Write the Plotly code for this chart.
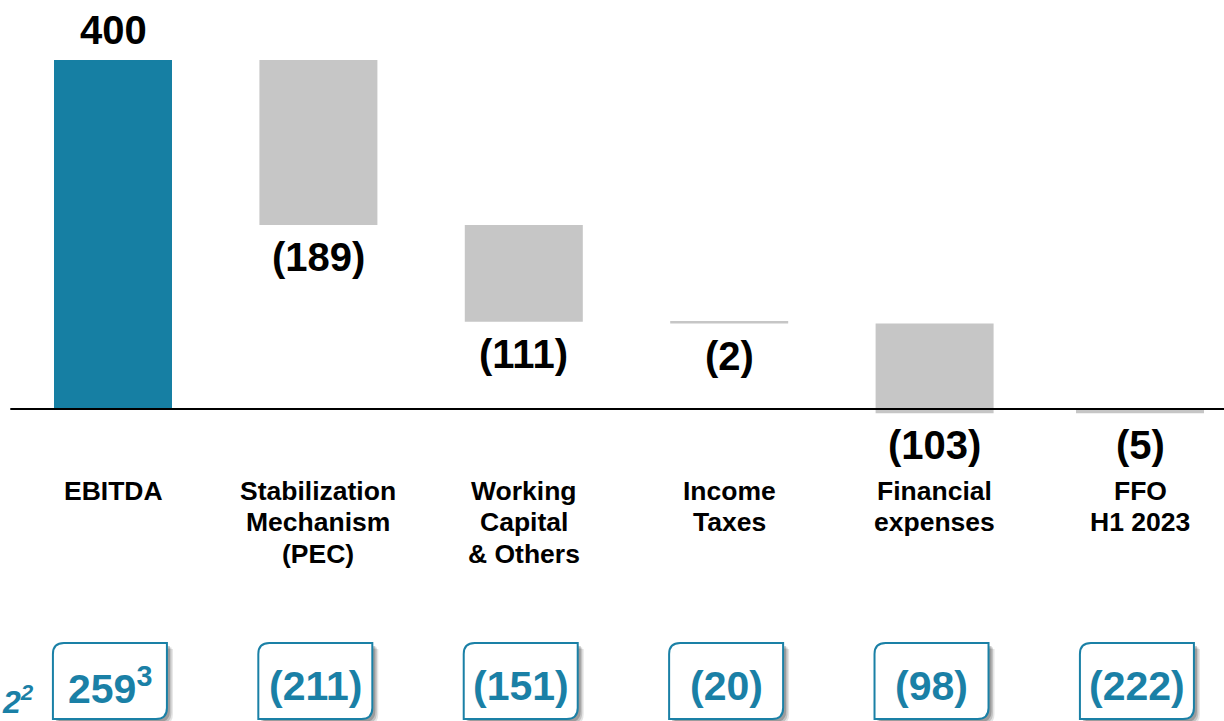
import plotly.graph_objects as go

# ---- data ----
categories = ["EBITDA", "Stabilization Mechanism (PEC)", "Working Capital & Others",
              "Income Taxes", "Financial expenses", "FFO H1 2023"]
category_lines = [["EBITDA"], ["Stabilization", "Mechanism", "(PEC)"],
                  ["Working", "Capital", "& Others"], ["Income", "Taxes"],
                  ["Financial", "expenses"], ["FFO", "H1 2023"]]
values = [400, -189, -111, -2, -103, -5]
measures = ["relative", "relative", "relative", "relative", "relative", "total"]
value_labels = ["400", "(189)", "(111)", "(2)", "(103)", "(5)"]
prior_labels = ["259<sup>3</sup>", "(211)", "(151)", "(20)", "(98)", "(222)"]

TEAL = "#167FA3"
BOX_TEAL = "#1A80A6"
GRAY = "#C6C6C6"
FONT = "Liberation Sans, Arial, sans-serif"

W, H = 1224, 721
PX_PER_CAT = 205.4
x_pos = list(range(len(categories)))
x_range = [-113 / PX_PER_CAT, (W - 113) / PX_PER_CAT]
PX_PER_UNIT = 349 / 400
y_range = [-(H - 409) / PX_PER_UNIT, 409 / PX_PER_UNIT]

fig = go.Figure(go.Waterfall(
    x=x_pos, y=values, measure=measures,
    width=[118 / PX_PER_CAT] * 5 + [128 / PX_PER_CAT],
    increasing=dict(marker=dict(color=TEAL)),
    decreasing=dict(marker=dict(color=GRAY)),
    totals=dict(marker=dict(color=GRAY)),
    connector=dict(visible=False),
    textposition="none", hoverinfo="skip",
))

annotations = []
# value labels at bar ends
cum = 0
for i, (v, m, lab) in enumerate(zip(values, measures, value_labels)):
    if m == "total":
        start, end = 0, v
    else:
        start, end = cum, cum + v
        cum = end
    if v >= 0:
        annotations.append(dict(x=i, y=end, xref="x", yref="y", text=lab, showarrow=False,
                                yanchor="middle", yshift=30,
                                font=dict(family=FONT, size=40, color="black", weight="bold")))
    else:
        annotations.append(dict(x=i, y=min(start, end), xref="x", yref="y", text=lab,
                                showarrow=False, yanchor="middle", yshift=-32,
                                font=dict(family=FONT, size=40, color="black", weight="bold")))

# category labels, one line each
line_y = [491, 522, 554]
for i, lines in enumerate(category_lines):
    for j, ln in enumerate(lines):
        annotations.append(dict(x=i, y=1 - line_y[j] / H, xref="x", yref="paper", text=ln,
                                showarrow=False, yanchor="middle",
                                font=dict(family=FONT, size=26.5, color="black", weight="bold")))

# bottom boxes with prior-period values
shapes = []
bw = 57 / PX_PER_CAT
top = 1 - 643 / H
bot = 1 - 719 / H
rx = 11 / PX_PER_CAT
ry = 11 / H

def box_path(cx, dx=0.0, dy=0.0):
    x0, x1 = cx - bw + dx, cx + bw + dx
    t, b = top - dy, bot - dy
    return (f"M {x0},{b} L {x0},{t - ry} Q {x0},{t} {x0 + rx},{t} "
            f"L {x1},{t} L {x1},{b + ry} Q {x1},{b} {x1 - rx},{b} Z")

for i, lab in enumerate(prior_labels):
    cx = i - 0.015
    for k, op in [(6, 0.10), (4.5, 0.15), (3, 0.2)]:
        shapes.append(dict(type="path", xref="x", yref="paper",
                           path=box_path(cx, k / PX_PER_CAT, k / H),
                           fillcolor=f"rgba(0,0,0,{op})", line=dict(width=0), layer="above"))
    shapes.append(dict(type="path", xref="x", yref="paper", path=box_path(cx),
                       fillcolor="white", line=dict(color=BOX_TEAL, width=2), layer="above"))
    annotations.append(dict(x=cx, y=1 - 686 / H, xref="x", yref="paper", text=lab,
                            showarrow=False, yanchor="middle",
                            font=dict(family=FONT, size=41, color=BOX_TEAL, weight="bold")))

# fragment at the left edge
annotations.append(dict(x=0, y=1 - 700 / H, xref="paper", yref="paper",
                        text="2<sup>2</sup>", showarrow=False, xanchor="left", yanchor="middle",
                        font=dict(family=FONT, size=32, color=BOX_TEAL, weight="bold",
                                  style="italic")))

# baseline
shapes.append(dict(type="line", xref="x", yref="y", x0=-0.5, x1=x_range[1], y0=0, y1=0,
                   line=dict(color="black", width=2), layer="above"))

fig.update_layout(
    width=W, height=H, margin=dict(l=0, r=0, t=0, b=0),
    paper_bgcolor="white", plot_bgcolor="white", showlegend=False,
    xaxis=dict(range=x_range, visible=False, fixedrange=True),
    yaxis=dict(range=y_range, visible=False, fixedrange=True),
    shapes=shapes, annotations=annotations,
    font=dict(family=FONT),
)

fig.write_html("out.html", config={"displayModeBar": False},
               post_script="document.body.style.margin='0';document.body.style.overflow='hidden';")
